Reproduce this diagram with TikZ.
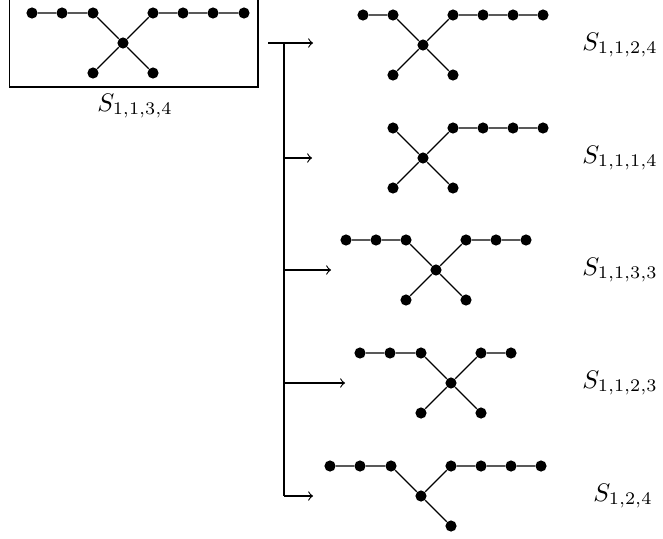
\documentclass[tikz,border=0pt]{standalone}
\usepackage{amsmath,amssymb}
\usetikzlibrary{arrows}

\tikzset{
  vertex/.style={circle, fill=black, inner sep=0pt, minimum size=4.4pt},
  spoke/.style={line width=0.45pt},
  branch/.style={->, line width=0.45pt}
}

\begin{document}
\begin{tikzpicture}[x=0.394pt, y=-0.394pt]
        \useasboundingbox (0,0) rectangle (663,538);

        % original spider in its box
        \draw (9.5,-10) rectangle (258,87);
        \foreach \n/\x/\y in {oc/123/43, ol1/93/13, ol2/62/13, ol3/32/13,
                              or1/153/13, or2/183/13, or3/213/13, or4/244/13,
                              od1/93/73, od2/153/73}
            \node[vertex] (\n) at (\x,\y) {};
        \draw[spoke] (ol3) -- (ol2) -- (ol1) -- (oc) -- (or1) -- (or2) -- (or3) -- (or4);
        \draw[spoke] (od1) -- (oc) -- (od2);
        \node (olab) at (135,106) {$S_{1,1,3,4}$};

        % branching arrows
        \coordinate (src) at (268,43);
        \coordinate (j1) at (284,43);
        \coordinate (j2) at (284,158);
        \coordinate (j3) at (284,270);
        \coordinate (j4) at (284,383);
        \coordinate (j5) at (284,496);
        \coordinate (t1) at (313,43);
        \coordinate (t2) at (312,158);
        \coordinate (t3) at (331,270);
        \coordinate (t4) at (345,383);
        \coordinate (t5) at (313,496);
        \draw[branch] (src) -- (t1);
        \draw[spoke] (j1) -- (j5);
        \draw[branch] (j2) -- (t2);
        \draw[branch] (j3) -- (t3);
        \draw[branch] (j4) -- (t4);
        \draw[branch] (j5) -- (t5);

        % S_{1,1,2,4}
        \foreach \n/\x/\y in {ac/423/45, al1/393/15, al2/363/15,
                              ar1/453/15, ar2/483/15, ar3/513/15, ar4/543/15,
                              ad1/393/75, ad2/453/75}
            \node[vertex] (\n) at (\x,\y) {};
        \draw[spoke] (al2) -- (al1) -- (ac) -- (ar1) -- (ar2) -- (ar3) -- (ar4);
        \draw[spoke] (ad1) -- (ac) -- (ad2);
        \node (alab) at (620,45) {$S_{1,1,2,4}$};

        % S_{1,1,1,4}
        \foreach \n/\x/\y in {bc/423/158, bl1/393/128,
                              br1/453/128, br2/483/128, br3/513/128, br4/543/128,
                              bd1/393/188, bd2/453/188}
            \node[vertex] (\n) at (\x,\y) {};
        \draw[spoke] (bl1) -- (bc) -- (br1) -- (br2) -- (br3) -- (br4);
        \draw[spoke] (bd1) -- (bc) -- (bd2);
        \node (blab) at (620,158) {$S_{1,1,1,4}$};

        % S_{1,1,3,3}
        \foreach \n/\x/\y in {cc/436/270, cl1/406/240, cl2/376/240, cl3/346/240,
                              cr1/466/240, cr2/496/240, cr3/526/240,
                              cd1/406/300, cd2/466/300}
            \node[vertex] (\n) at (\x,\y) {};
        \draw[spoke] (cl3) -- (cl2) -- (cl1) -- (cc) -- (cr1) -- (cr2) -- (cr3);
        \draw[spoke] (cd1) -- (cc) -- (cd2);
        \node (clab) at (620,270) {$S_{1,1,3,3}$};

        % S_{1,1,2,3}
        \foreach \n/\x/\y in {dc/451/383, dl1/421/353, dl2/390/353, dl3/360/353,
                              dr1/481/353, dr2/511/353,
                              dd1/421/413, dd2/481/413}
            \node[vertex] (\n) at (\x,\y) {};
        \draw[spoke] (dl3) -- (dl2) -- (dl1) -- (dc) -- (dr1) -- (dr2);
        \draw[spoke] (dd1) -- (dc) -- (dd2);
        \node (dlab) at (620,383) {$S_{1,1,2,3}$};

        % S_{1,2,4}
        \foreach \n/\x/\y in {ec/421/496, el1/391/466, el2/360/466, el3/330/466,
                              er1/451/466, er2/481/466, er3/511/466, er4/541/466,
                              ed1/451/526}
            \node[vertex] (\n) at (\x,\y) {};
        \draw[spoke] (el3) -- (el2) -- (el1) -- (ec) -- (er1) -- (er2) -- (er3) -- (er4);
        \draw[spoke] (ec) -- (ed1);
        \node (elab) at (623,496) {$S_{1,2,4}$};
\end{tikzpicture}
\end{document}
